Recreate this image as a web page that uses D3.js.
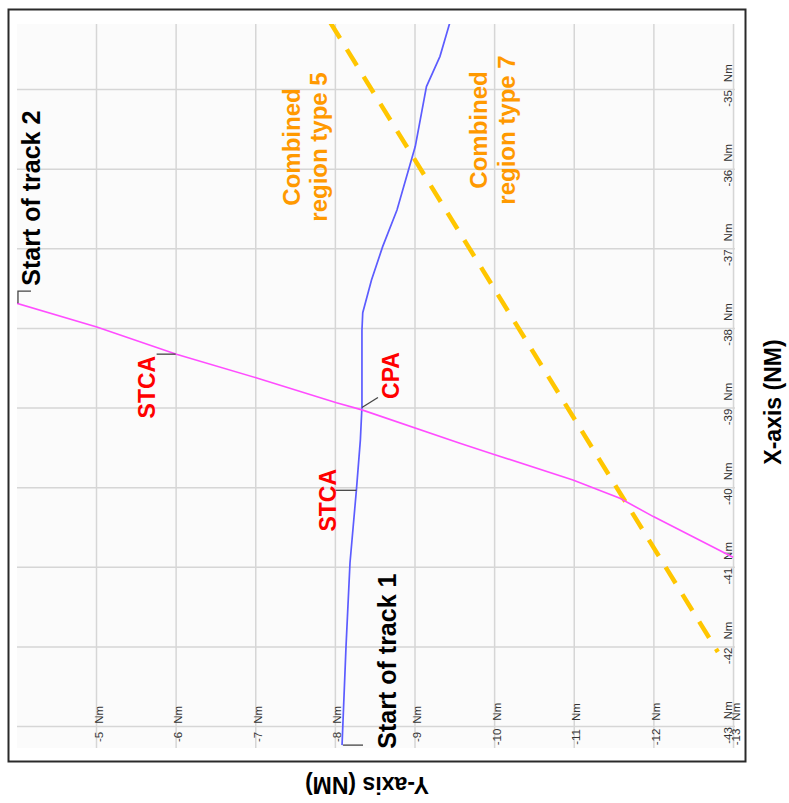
<!DOCTYPE html>
<html>
<head>
<meta charset="utf-8">
<script src="https://cdn.jsdelivr.net/npm/d3@7/dist/d3.min.js"></script>
<style>
  html, body { margin: 0; padding: 0; background: #ffffff; }
  svg { display: block; font-family: "Liberation Sans", Arial, sans-serif; }
</style>
</head>
<body>
<svg id="chart" width="789" height="803"></svg>
<script>
// Axis ticks (NM). Y runs across the page, X runs down it.
const yTicks = [-5, -6, -7, -8, -9, -10, -11, -12, -13];
const xTicks = [-35, -36, -37, -38, -39, -40, -41, -42, -43];

// Track 1 (blue): Y / X positions in NM, from its start
const track1Y = [-8.09, -8.14, -8.19, -8.27, -8.32, -8.34, -8.34, -8.35, -8.46, -8.60, -8.78, -9.01, -9.15, -9.32, -9.44];
const track1X = [-43.24, -42.00, -40.95, -40.04, -39.41, -38.99, -38.03, -37.81, -37.40, -36.98, -36.52, -35.72, -34.97, -34.59, -34.18];

// Track 2 (magenta)
const track2Y = [-4.00, -5.01, -6.01, -7.02, -8.02, -8.34, -9.57, -10.00, -10.99, -11.58, -12.00, -13.00];
const track2X = [-37.69, -37.99, -38.33, -38.63, -38.94, -39.03, -39.45, -39.59, -39.91, -40.14, -40.37, -40.88];

// Boundary between combined regions 5 and 7 (dashed)
const boundaryY = [-7.94, -12.81];
const boundaryX = [-34.16, -42.07];

// Event points
const eventNames = ["Start of track 2", "STCA", "CPA", "STCA", "Start of track 1"];
const eventY = [-4.02, -6.00, -8.34, -8.27, -8.09];
const eventX = [-37.69, -38.33, -39.00, -40.04, -43.24];

const regionLabels = [["Combined", "region type 5"], ["Combined", "region type 7"]];

const svg = d3.select("#chart");

// Plot box
const plotL = 17, plotR = 735, plotT = 24, plotB = 748;

const yS = d3.scaleLinear().domain([-5, -13]).range([96, 733]);   // horizontal
const xS = d3.scaleLinear().domain([-35, -43]).range([89, 726]);  // vertical

// outer frame
svg.append("rect")
  .attr("x", 8.5).attr("y", 9.5).attr("width", 737).attr("height", 752)
  .attr("fill", "#ffffff").attr("stroke", "#2a2a2a").attr("stroke-width", 2);

svg.append("rect")
  .attr("x", plotL).attr("y", plotT).attr("width", plotR - plotL).attr("height", plotB - plotT)
  .attr("fill", "#fbfbfb");

svg.append("defs").append("clipPath").attr("id", "plotClip")
  .append("rect").attr("x", plotL).attr("y", plotT).attr("width", plotR - plotL).attr("height", plotB - plotT);

// label helper: number and unit separated by a gap
function splitLabel(sel) {
  sel.each(function(d) {
    const t = d3.select(this);
    t.text(null);
    t.append("tspan").text(String(d));
    t.append("tspan").attr("dx", 8).text("Nm");
  });
}

// Y axis along the bottom, gridlines upward
const gY = svg.append("g").attr("transform", `translate(0,${plotB})`)
  .call(d3.axisBottom(yS).tickValues(yTicks).tickSize(-(plotB - plotT)).tickFormat(d => d));
gY.select(".domain").remove();
gY.selectAll(".tick line").attr("stroke", "#d6d6d6").attr("stroke-width", 1.5);
gY.selectAll(".tick text")
  .attr("y", null).attr("dy", null).attr("x", null)
  .attr("text-anchor", "middle")
  .attr("transform", "translate(6,-24) rotate(-90)")
  .attr("font-size", 11.5).attr("fill", "#333")
  .call(splitLabel);

// X axis on the right, gridlines leftward
const gX = svg.append("g").attr("transform", `translate(${plotR},0)`)
  .call(d3.axisRight(xS).tickValues(xTicks).tickSize(-(plotR - plotL)).tickFormat(d => d));
gX.select(".domain").remove();
gX.selectAll(".tick line").attr("stroke", "#d6d6d6").attr("stroke-width", 1.5);
gX.selectAll(".tick text")
  .attr("x", null).attr("dy", null).attr("y", null)
  .attr("text-anchor", "middle")
  .attr("transform", "translate(-3,-4) rotate(-90)")
  .attr("font-size", 11.5).attr("fill", "#333")
  .call(splitLabel);

const plot = svg.append("g").attr("clip-path", "url(#plotClip)");
const line = d3.line().x(d => yS(d[0])).y(d => xS(d[1]));

plot.append("path")
  .datum(d3.zip(boundaryY, boundaryX))
  .attr("d", line).attr("fill", "none")
  .attr("stroke", "#ffc600").attr("stroke-width", 4.5)
  .attr("stroke-dasharray", "19 13");

plot.append("path")
  .datum(d3.zip(track1Y, track1X))
  .attr("d", line).attr("fill", "none")
  .attr("stroke", "#5c5cff").attr("stroke-width", 1.7);

plot.append("path")
  .datum(d3.zip(track2Y, track2X))
  .attr("d", line).attr("fill", "none")
  .attr("stroke", "#ff4dff").attr("stroke-width", 1.6);

// leader lines to the event points
const ev = eventNames.map((n, i) => ({ name: n, px: yS(eventY[i]), py: xS(eventX[i]) }));
const lead = svg.append("g").attr("stroke", "#444").attr("stroke-width", 1.3).attr("fill", "none");
lead.append("path").attr("d", `M${ev[0].px},${ev[0].py} V${ev[0].py - 12} H${ev[0].px + 13}`);
lead.append("path").attr("d", `M${ev[1].px - 19},${ev[1].py} H${ev[1].px}`);
lead.append("path").attr("d", `M${ev[2].px},${ev[2].py} L${ev[2].px + 16},${ev[2].py - 10}`);
lead.append("path").attr("d", `M${ev[3].px - 21},${ev[3].py} H${ev[3].px}`);
lead.append("path").attr("d", `M${ev[4].px + 1},${ev[4].py} H${ev[4].px + 21}`);

function vtext(x, y, str, size, color, weight) {
  return svg.append("text")
    .attr("transform", `translate(${x},${y}) rotate(-90)`)
    .attr("text-anchor", "middle")
    .attr("font-size", size).attr("font-weight", weight || "bold")
    .attr("fill", color).text(str);
}

// event labels
vtext(ev[0].px + 22, ev[0].py - 105, ev[0].name, 25, "#000");
vtext(ev[1].px - 21, ev[1].py + 33, ev[1].name, 23, "#ff0000");
vtext(ev[2].px + 37, ev[2].py - 32, ev[2].name, 23, "#ff0000");
vtext(ev[3].px - 20, ev[3].py + 10, ev[3].name, 23, "#ff0000");
vtext(ev[4].px + 54, ev[4].py - 84, ev[4].name, 25, "#000");

// region labels
vtext(300, 147, regionLabels[0][0], 24, "#ff9900");
vtext(327, 147, regionLabels[0][1], 24, "#ff9900");
vtext(487, 130, regionLabels[1][0], 24, "#ff9900");
vtext(515, 130, regionLabels[1][1], 24, "#ff9900");

// axis titles
svg.append("text")
  .attr("transform", "translate(781,402) rotate(-90)")
  .attr("text-anchor", "middle").attr("font-size", 23).attr("font-weight", "bold")
  .attr("fill", "#000").text("X-axis (NM)");
svg.append("text")
  .attr("transform", "translate(367,777) rotate(180)")
  .attr("text-anchor", "middle").attr("font-size", 23).attr("font-weight", "bold")
  .attr("fill", "#000").text("Y-axis (NM)");
</script>
</body>
</html>
